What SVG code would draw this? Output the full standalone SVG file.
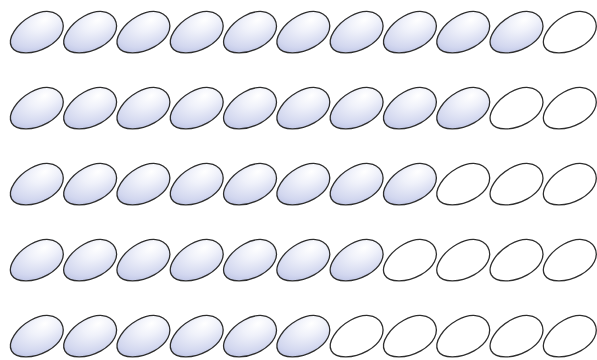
<svg xmlns="http://www.w3.org/2000/svg" xmlns:xlink="http://www.w3.org/1999/xlink" width="597" height="360" viewBox="0 0 597 360">
<style>
.egg{stroke:#2e2e2e;stroke-width:1.3}
.full{fill:url(#g)}
.empty{fill:#ffffff}
</style>
<defs>
<radialGradient id="g" cx="0.74" cy="0.3" r="0.95" fx="0.74" fy="0.28">
<stop offset="0" stop-color="#ffffff"/>
<stop offset="0.3" stop-color="#eff1fa"/>
<stop offset="0.7" stop-color="#d2d7ef"/>
<stop offset="1" stop-color="#aeb6de"/>
</radialGradient>
<path id="e" d="M -28.5,0 C -28.5,-9.5 -13,-17.5 3,-17.5 C 18,-17.5 28.5,-10.5 28.5,0 C 28.5,10.5 18,17.5 3,17.5 C -13,17.5 -28.5,9.5 -28.5,0 Z"/>
</defs>
<g id="row1">
<g id="n1_1" transform="translate(36.5,33) rotate(-29)"><use xlink:href="#e" class="egg full"/></g>
<g id="n1_2" transform="translate(89.8,33) rotate(-29)"><use xlink:href="#e" class="egg full"/></g>
<g id="n1_3" transform="translate(143.1,33) rotate(-29)"><use xlink:href="#e" class="egg full"/></g>
<g id="n1_4" transform="translate(196.4,33) rotate(-29)"><use xlink:href="#e" class="egg full"/></g>
<g id="n1_5" transform="translate(249.7,33) rotate(-29)"><use xlink:href="#e" class="egg full"/></g>
<g id="n1_6" transform="translate(303,33) rotate(-29)"><use xlink:href="#e" class="egg full"/></g>
<g id="n1_7" transform="translate(356.3,33) rotate(-29)"><use xlink:href="#e" class="egg full"/></g>
<g id="n1_8" transform="translate(409.6,33) rotate(-29)"><use xlink:href="#e" class="egg full"/></g>
<g id="n1_9" transform="translate(462.9,33) rotate(-29)"><use xlink:href="#e" class="egg full"/></g>
<g id="n1_10" transform="translate(516.2,33) rotate(-29)"><use xlink:href="#e" class="egg full"/></g>
<g id="n1_11" transform="translate(569.5,33) rotate(-29)"><use xlink:href="#e" class="egg empty"/></g>
</g>
<g id="row2">
<g id="n2_1" transform="translate(36.5,109) rotate(-29)"><use xlink:href="#e" class="egg full"/></g>
<g id="n2_2" transform="translate(89.8,109) rotate(-29)"><use xlink:href="#e" class="egg full"/></g>
<g id="n2_3" transform="translate(143.1,109) rotate(-29)"><use xlink:href="#e" class="egg full"/></g>
<g id="n2_4" transform="translate(196.4,109) rotate(-29)"><use xlink:href="#e" class="egg full"/></g>
<g id="n2_5" transform="translate(249.7,109) rotate(-29)"><use xlink:href="#e" class="egg full"/></g>
<g id="n2_6" transform="translate(303,109) rotate(-29)"><use xlink:href="#e" class="egg full"/></g>
<g id="n2_7" transform="translate(356.3,109) rotate(-29)"><use xlink:href="#e" class="egg full"/></g>
<g id="n2_8" transform="translate(409.6,109) rotate(-29)"><use xlink:href="#e" class="egg full"/></g>
<g id="n2_9" transform="translate(462.9,109) rotate(-29)"><use xlink:href="#e" class="egg full"/></g>
<g id="n2_10" transform="translate(516.2,109) rotate(-29)"><use xlink:href="#e" class="egg empty"/></g>
<g id="n2_11" transform="translate(569.5,109) rotate(-29)"><use xlink:href="#e" class="egg empty"/></g>
</g>
<g id="row3">
<g id="n3_1" transform="translate(36.5,185) rotate(-29)"><use xlink:href="#e" class="egg full"/></g>
<g id="n3_2" transform="translate(89.8,185) rotate(-29)"><use xlink:href="#e" class="egg full"/></g>
<g id="n3_3" transform="translate(143.1,185) rotate(-29)"><use xlink:href="#e" class="egg full"/></g>
<g id="n3_4" transform="translate(196.4,185) rotate(-29)"><use xlink:href="#e" class="egg full"/></g>
<g id="n3_5" transform="translate(249.7,185) rotate(-29)"><use xlink:href="#e" class="egg full"/></g>
<g id="n3_6" transform="translate(303,185) rotate(-29)"><use xlink:href="#e" class="egg full"/></g>
<g id="n3_7" transform="translate(356.3,185) rotate(-29)"><use xlink:href="#e" class="egg full"/></g>
<g id="n3_8" transform="translate(409.6,185) rotate(-29)"><use xlink:href="#e" class="egg full"/></g>
<g id="n3_9" transform="translate(462.9,185) rotate(-29)"><use xlink:href="#e" class="egg empty"/></g>
<g id="n3_10" transform="translate(516.2,185) rotate(-29)"><use xlink:href="#e" class="egg empty"/></g>
<g id="n3_11" transform="translate(569.5,185) rotate(-29)"><use xlink:href="#e" class="egg empty"/></g>
</g>
<g id="row4">
<g id="n4_1" transform="translate(36.5,261) rotate(-29)"><use xlink:href="#e" class="egg full"/></g>
<g id="n4_2" transform="translate(89.8,261) rotate(-29)"><use xlink:href="#e" class="egg full"/></g>
<g id="n4_3" transform="translate(143.1,261) rotate(-29)"><use xlink:href="#e" class="egg full"/></g>
<g id="n4_4" transform="translate(196.4,261) rotate(-29)"><use xlink:href="#e" class="egg full"/></g>
<g id="n4_5" transform="translate(249.7,261) rotate(-29)"><use xlink:href="#e" class="egg full"/></g>
<g id="n4_6" transform="translate(303,261) rotate(-29)"><use xlink:href="#e" class="egg full"/></g>
<g id="n4_7" transform="translate(356.3,261) rotate(-29)"><use xlink:href="#e" class="egg full"/></g>
<g id="n4_8" transform="translate(409.6,261) rotate(-29)"><use xlink:href="#e" class="egg empty"/></g>
<g id="n4_9" transform="translate(462.9,261) rotate(-29)"><use xlink:href="#e" class="egg empty"/></g>
<g id="n4_10" transform="translate(516.2,261) rotate(-29)"><use xlink:href="#e" class="egg empty"/></g>
<g id="n4_11" transform="translate(569.5,261) rotate(-29)"><use xlink:href="#e" class="egg empty"/></g>
</g>
<g id="row5">
<g id="n5_1" transform="translate(36.5,337) rotate(-29)"><use xlink:href="#e" class="egg full"/></g>
<g id="n5_2" transform="translate(89.8,337) rotate(-29)"><use xlink:href="#e" class="egg full"/></g>
<g id="n5_3" transform="translate(143.1,337) rotate(-29)"><use xlink:href="#e" class="egg full"/></g>
<g id="n5_4" transform="translate(196.4,337) rotate(-29)"><use xlink:href="#e" class="egg full"/></g>
<g id="n5_5" transform="translate(249.7,337) rotate(-29)"><use xlink:href="#e" class="egg full"/></g>
<g id="n5_6" transform="translate(303,337) rotate(-29)"><use xlink:href="#e" class="egg full"/></g>
<g id="n5_7" transform="translate(356.3,337) rotate(-29)"><use xlink:href="#e" class="egg empty"/></g>
<g id="n5_8" transform="translate(409.6,337) rotate(-29)"><use xlink:href="#e" class="egg empty"/></g>
<g id="n5_9" transform="translate(462.9,337) rotate(-29)"><use xlink:href="#e" class="egg empty"/></g>
<g id="n5_10" transform="translate(516.2,337) rotate(-29)"><use xlink:href="#e" class="egg empty"/></g>
<g id="n5_11" transform="translate(569.5,337) rotate(-29)"><use xlink:href="#e" class="egg empty"/></g>
</g>
<g id="connectors"/>
</svg>
